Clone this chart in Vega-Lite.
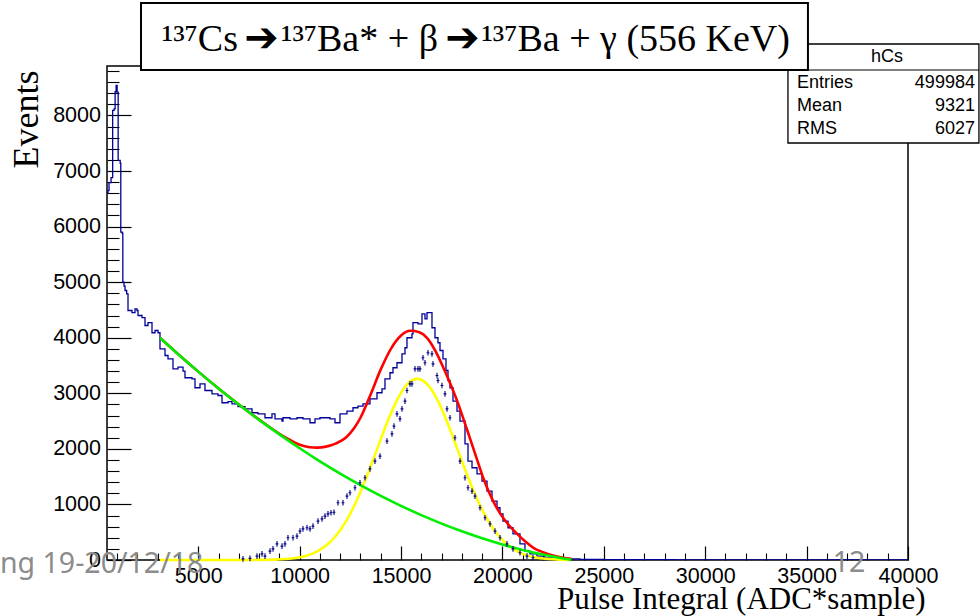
{
 "$schema": "https://vega.github.io/schema/vega-lite/v6.json",
 "width": 801,
 "height": 494,
 "autosize": {"type": "none"},
 "padding": {"left": 107, "top": 66, "right": 72, "bottom": 56},
 "background": "white",
 "config": {"view": {"stroke": "black", "strokeWidth": 1.5}},
 "resolve": {"axis": {"x": "independent", "y": "independent"}},
 "datasets": {
  "hist": [
   {"x":500,"n":6610},{"x":550,"n":6650},{"x":600,"n":6790},{"x":700,"n":6880},{"x":780,"n":8090},{"x":850,"n":8120},{"x":900,"n":8430},{"x":950,"n":8540},{"x":1000,"n":8420},{"x":1050,"n":7190},{"x":1150,"n":7140},{"x":1180,"n":5900},{"x":1250,"n":5880},{"x":1280,"n":5000},{"x":1340,"n":4930},{"x":1390,"n":4850},{"x":1470,"n":4790},{"x":1536,"n":4490},{"x":1733,"n":4450},{"x":1881,"n":4520},{"x":1979,"n":4490},{"x":2029,"n":4400},{"x":2226,"n":4360},{"x":2374,"n":4220},{"x":2522,"n":4270},{"x":2719,"n":4090},{"x":2867,"n":4130},{"x":3015,"n":4090},{"x":3113,"n":3800},{"x":3360,"n":3680},{"x":3508,"n":3620},{"x":3754,"n":3440},{"x":4001,"n":3470},{"x":4248,"n":3400},{"x":4346,"n":3280},{"x":4691,"n":3260},{"x":4839,"n":3100},{"x":5086,"n":3170},{"x":5332,"n":3050},{"x":5678,"n":2990},{"x":5973,"n":2960},{"x":6171,"n":2830},{"x":6467,"n":2850},{"x":6664,"n":2810},{"x":6960,"n":2760},{"x":7305,"n":2720},{"x":7650,"n":2650},{"x":7946,"n":2630},{"x":8291,"n":2560},{"x":8636,"n":2630},{"x":8784,"n":2540},{"x":9129,"n":2500},{"x":9179,"n":2560},{"x":9524,"n":2540},{"x":9870,"n":2560},{"x":10165,"n":2540},{"x":10511,"n":2470},{"x":10757,"n":2540},{"x":11003,"n":2560},{"x":11496,"n":2540},{"x":11743,"n":2470},{"x":11989,"n":2630},{"x":12334,"n":2680},{"x":12631,"n":2740},{"x":12877,"n":2770},{"x":13124,"n":2810},{"x":13469,"n":2900},{"x":13814,"n":3010},{"x":14061,"n":3080},{"x":14208,"n":3260},{"x":14455,"n":3370},{"x":14603,"n":3460},{"x":14800,"n":3550},{"x":15047,"n":3710},{"x":15195,"n":3820},{"x":15293,"n":4000},{"x":15540,"n":4070},{"x":15589,"n":4270},{"x":15836,"n":4250},{"x":16033,"n":4430},{"x":16181,"n":4340},{"x":16280,"n":4450},{"x":16526,"n":4180},{"x":16674,"n":4000},{"x":16822,"n":3910},{"x":16921,"n":3770},{"x":17069,"n":3620},{"x":17217,"n":3410},{"x":17315,"n":3230},{"x":17414,"n":3100},{"x":17562,"n":2860},{"x":17759,"n":2680},{"x":17907,"n":2500},{"x":18154,"n":2090},{"x":18302,"n":1780},{"x":18500,"n":1660},{"x":18746,"n":1550},{"x":18993,"n":1420},{"x":19239,"n":1240},{"x":19486,"n":1060},{"x":19733,"n":940},{"x":19879,"n":830},{"x":20027,"n":700},{"x":20274,"n":580},{"x":20520,"n":470},{"x":20865,"n":290},{"x":21112,"n":160},{"x":21358,"n":110},{"x":21703,"n":70},{"x":22098,"n":40},{"x":22837,"n":20},{"x":23823,"n":10},{"x":25000,"n":5},{"x":27000,"n":8},{"x":28500,"n":3},{"x":30000,"n":2},{"x":33000,"n":1},{"x":36000,"n":2},{"x":40000,"n":0}
  ],
  "total": [
   {"x":3113,"n":4000},{"x":4000,"n":3707},{"x":5000,"n":3390},{"x":6000,"n":3087},{"x":7000,"n":2800},{"x":8000,"n":2527},{"x":9000,"n":2272},{"x":9500,"n":2165},{"x":10000,"n":2075},{"x":10500,"n":2030},{"x":10850,"n":2022},{"x":11300,"n":2040},{"x":11800,"n":2100},{"x":12300,"n":2210},{"x":12700,"n":2380},{"x":13000,"n":2560},{"x":13500,"n":2980},{"x":14000,"n":3430},{"x":14500,"n":3800},{"x":15000,"n":4040},{"x":15460,"n":4125},{"x":15900,"n":4100},{"x":16300,"n":3990},{"x":16700,"n":3760},{"x":17090,"n":3460},{"x":17430,"n":3170},{"x":17780,"n":2850},{"x":18270,"n":2330},{"x":18700,"n":1860},{"x":19060,"n":1470},{"x":19500,"n":1090},{"x":19900,"n":830},{"x":20300,"n":635},{"x":20740,"n":465},{"x":21100,"n":340},{"x":21530,"n":220},{"x":22000,"n":140},{"x":22500,"n":80},{"x":23000,"n":40},{"x":23400,"n":22}
  ],
  "gaus": [
   {"x":3113,"n":0},{"x":6000,"n":0},{"x":7800,"n":1},{"x":8300,"n":3},{"x":8800,"n":7},{"x":9300,"n":17},{"x":9800,"n":36},{"x":10300,"n":74},{"x":10800,"n":143},{"x":11300,"n":259},{"x":11800,"n":441},{"x":12300,"n":705},{"x":12800,"n":1058},{"x":13300,"n":1492},{"x":13800,"n":1977},{"x":14300,"n":2461},{"x":14800,"n":2877},{"x":15300,"n":3160},{"x":15800,"n":3260},{"x":16300,"n":3160},{"x":16800,"n":2877},{"x":17300,"n":2461},{"x":17800,"n":1977},{"x":18300,"n":1492},{"x":18800,"n":1058},{"x":19300,"n":705},{"x":19800,"n":441},{"x":20300,"n":259},{"x":20800,"n":143},{"x":21300,"n":74},{"x":21800,"n":36},{"x":22300,"n":17},{"x":22800,"n":7},{"x":23300,"n":3}
  ],
  "bkg": [
   {"x":3113,"n":4000},{"x":4000,"n":3707},{"x":5000,"n":3390},{"x":6000,"n":3087},{"x":7000,"n":2797},{"x":8000,"n":2521},{"x":9000,"n":2260},{"x":10000,"n":2011},{"x":11000,"n":1776},{"x":12000,"n":1555},{"x":13000,"n":1348},{"x":14000,"n":1154},{"x":15000,"n":974},{"x":16000,"n":808},{"x":17000,"n":655},{"x":18000,"n":517},{"x":19000,"n":391},{"x":20000,"n":280},{"x":21000,"n":182},{"x":22000,"n":98},{"x":23000,"n":27},{"x":23400,"n":5}
  ],
  "points": [
   {"x":7206,"n":20},{"x":7551,"n":30},{"x":7897,"n":70},{"x":8143,"n":110},{"x":8291,"n":70},{"x":8538,"n":160},{"x":8686,"n":200},{"x":8883,"n":290},{"x":9129,"n":250},{"x":9277,"n":290},{"x":9425,"n":400},{"x":9672,"n":400},{"x":9869,"n":430},{"x":10017,"n":520},{"x":10165,"n":560},{"x":10362,"n":580},{"x":10510,"n":560},{"x":10658,"n":610},{"x":10905,"n":700},{"x":11102,"n":740},{"x":11250,"n":790},{"x":11398,"n":830},{"x":11546,"n":850},{"x":11694,"n":860},{"x":11891,"n":1030},{"x":12138,"n":1030},{"x":12334,"n":1150},{"x":12482,"n":1210},{"x":12729,"n":1300},{"x":12976,"n":1390},{"x":13222,"n":1480},{"x":13469,"n":1640},{"x":13715,"n":1780},{"x":13962,"n":1870},{"x":14307,"n":2140},{"x":14553,"n":2270},{"x":14652,"n":2410},{"x":14800,"n":2630},{"x":14948,"n":2540},{"x":15047,"n":2720},{"x":15195,"n":2860},{"x":15293,"n":3050},{"x":15441,"n":3170},{"x":15540,"n":3170},{"x":15688,"n":3440},{"x":15836,"n":3440},{"x":15934,"n":3440},{"x":16082,"n":3640},{"x":16181,"n":3550},{"x":16329,"n":3730},{"x":16526,"n":3710},{"x":16576,"n":3530},{"x":16773,"n":3320},{"x":16822,"n":3230},{"x":17019,"n":3140},{"x":17167,"n":2990},{"x":17266,"n":2720},{"x":17414,"n":2560},{"x":17660,"n":2200},{"x":17907,"n":1780},{"x":18154,"n":1480},{"x":18302,"n":1300},{"x":18500,"n":1240},{"x":18647,"n":1150},{"x":18894,"n":940},{"x":19140,"n":760},{"x":19387,"n":650},{"x":19634,"n":520},{"x":19880,"n":400},{"x":20225,"n":290},{"x":20521,"n":200},{"x":20866,"n":130},{"x":21211,"n":70},{"x":21507,"n":40}
  ],
  "one": [{}]
 },
 "layer": [
  {
   "data": {"name": "hist"},
   "mark": {"type": "line", "interpolate": "step-after", "color": "#000099", "strokeWidth": 1.3, "clip": true},
   "encoding": {
    "x": {"field": "x", "type": "quantitative",
     "scale": {"domain": [500, 40000], "nice": false, "zero": false},
     "axis": {"orient": "bottom", "values": [5000,10000,15000,20000,25000,30000,35000,40000], "format": "d",
      "labelFont": "Liberation Sans", "labelFontSize": 21.5, "labelColor": "black", "labelPadding": 5, "labelFlush": false, "labelOverlap": false,
      "tickColor": "black", "tickSize": 14, "tickWidth": 1.2, "offset": -14, "domain": false, "grid": false,
      "title": "Pulse Integral (ADC*sample)", "titleFont": "Liberation Serif", "titleFontSize": 31, "titleFontWeight": "normal", "titleColor": "black",
      "titleAlign": "right", "titleAnchor": "end", "titleBaseline": "alphabetic", "titleX": 818, "titleY": 62}},
    "y": {"field": "n", "type": "quantitative",
     "scale": {"domain": [0, 8890], "nice": false, "zero": false},
     "axis": {"orient": "left", "values": [0,1000,2000,3000,4000,5000,6000,7000,8000], "format": "d",
      "labelFont": "Liberation Sans", "labelFontSize": 21.5, "labelColor": "black", "labelPadding": 6.5, "labelFlush": false, "labelOverlap": false,
      "tickColor": "black", "tickSize": 24, "tickWidth": 1.2, "offset": -24, "domain": false, "grid": false,
      "title": "Events", "titleFont": "Liberation Serif", "titleFontSize": 36, "titleFontWeight": "normal", "titleColor": "black",
      "titleAngle": -90, "titleAlign": "right", "titleBaseline": "alphabetic", "titleX": -94, "titleY": 4}}
   }
  },
  {
   "data": {"name": "total"},
   "mark": {"type": "line", "interpolate": "monotone", "color": "#ff0000", "strokeWidth": 2.6},
   "encoding": {
    "x": {"field": "x", "type": "quantitative",
     "axis": {"orient": "bottom", "values": [1000,2000,3000,4000,6000,7000,8000,9000,11000,12000,13000,14000,16000,17000,18000,19000,21000,22000,23000,24000,26000,27000,28000,29000,31000,32000,33000,34000,36000,37000,38000,39000],
      "labels": false, "domain": false, "grid": false, "title": null, "tickColor": "black", "tickSize": 7, "offset": -7, "tickWidth": 1.1}},
    "y": {"field": "n", "type": "quantitative",
     "axis": {"orient": "left", "values": [200,400,600,800,1200,1400,1600,1800,2200,2400,2600,2800,3200,3400,3600,3800,4200,4400,4600,4800,5200,5400,5600,5800,6200,6400,6600,6800,7200,7400,7600,7800,8200,8400,8600,8800],
      "labels": false, "domain": false, "grid": false, "title": null, "tickColor": "black", "tickSize": 12, "offset": -12, "tickWidth": 1.1}}
   }
  },
  {
   "data": {"name": "gaus"},
   "mark": {"type": "line", "interpolate": "monotone", "color": "#ffff00", "strokeWidth": 2.6},
   "encoding": {
    "x": {"field": "x", "type": "quantitative", "axis": null},
    "y": {"field": "n", "type": "quantitative", "axis": null}
   }
  },
  {
   "data": {"name": "bkg"},
   "mark": {"type": "line", "interpolate": "monotone", "color": "#00ee00", "strokeWidth": 2.6},
   "encoding": {
    "x": {"field": "x", "type": "quantitative", "axis": null},
    "y": {"field": "n", "type": "quantitative", "axis": null}
   }
  },
  {
   "data": {"name": "points"},
   "mark": {"type": "point", "shape": "M-0.5,0H0.5M0,-1V1", "filled": false, "stroke": "#000080", "strokeWidth": 1.1, "size": 32, "opacity": 1},
   "encoding": {
    "x": {"field": "x", "type": "quantitative", "axis": null},
    "y": {"field": "n", "type": "quantitative", "axis": null}
   }
  },
  {
   "data": {"name": "one"},
   "mark": {"type": "rect", "fill": "white", "stroke": "black", "strokeWidth": 1.3, "clip": false},
   "encoding": {
    "x": {"datum": 34080, "type": "quantitative", "axis": null}, "x2": {"datum": 43498},
    "y": {"datum": 9286, "type": "quantitative", "axis": null}, "y2": {"datum": 7504}
   }
  },
  {
   "data": {"name": "one"},
   "mark": {"type": "rule", "stroke": "black", "strokeWidth": 1.2, "clip": false},
   "encoding": {
    "x": {"datum": 34080, "type": "quantitative", "axis": null}, "x2": {"datum": 43498},
    "y": {"datum": 8818, "type": "quantitative", "axis": null}
   }
  },
  {
   "data": {"name": "one"},
   "mark": {"type": "text", "text": "hCs", "font": "Liberation Sans", "fontSize": 18, "align": "center", "baseline": "middle", "color": "black", "clip": false},
   "encoding": {
    "x": {"datum": 38962, "type": "quantitative", "axis": null},
    "y": {"datum": 9052, "type": "quantitative", "axis": null}
   }
  },
  {
   "data": {"name": "one"},
   "mark": {"type": "text", "text": ["Entries", "Mean", "RMS"], "font": "Liberation Sans", "fontSize": 18, "lineHeight": 23.3, "align": "left", "baseline": "top", "color": "black", "clip": false},
   "encoding": {
    "x": {"datum": 34524, "type": "quantitative", "axis": null},
    "y": {"datum": 8750, "type": "quantitative", "axis": null}
   }
  },
  {
   "data": {"name": "one"},
   "mark": {"type": "text", "text": ["499984", "9321", "6027"], "font": "Liberation Sans", "fontSize": 18, "lineHeight": 23.3, "align": "right", "baseline": "top", "color": "black", "clip": false},
   "encoding": {
    "x": {"datum": 43301, "type": "quantitative", "axis": null},
    "y": {"datum": 8750, "type": "quantitative", "axis": null}
   }
  },
  {
   "data": {"name": "one"},
   "mark": {"type": "rect", "fill": "white", "stroke": "black", "strokeWidth": 2, "clip": false},
   "encoding": {
    "x": {"datum": 2177, "type": "quantitative", "axis": null}, "x2": {"datum": 35066},
    "y": {"datum": 10024, "type": "quantitative", "axis": null}, "y2": {"datum": 8818}
   }
  },
  {
   "data": {"name": "one"},
   "mark": {"type": "text", "text": "¹³⁷Cs", "font": "Liberation Serif", "fontSize": 38, "align": "right", "baseline": "alphabetic", "color": "black", "clip": false},
   "encoding": {
    "x": {"datum": 6960, "type": "quantitative", "axis": null},
    "y": {"datum": 9160, "type": "quantitative", "axis": null}
   }
  },
  {
   "data": {"name": "one"},
   "mark": {"type": "text", "text": "➔", "font": "DejaVu Sans", "fontSize": 41, "align": "center", "baseline": "alphabetic", "color": "black", "clip": false},
   "encoding": {
    "x": {"datum": 8118, "type": "quantitative", "axis": null},
    "y": {"datum": 9160, "type": "quantitative", "axis": null}
   }
  },
  {
   "data": {"name": "one"},
   "mark": {"type": "text", "text": "¹³⁷Ba* + β", "font": "Liberation Serif", "fontSize": 38, "align": "left", "baseline": "alphabetic", "color": "black", "clip": false},
   "encoding": {
    "x": {"datum": 9080, "type": "quantitative", "axis": null},
    "y": {"datum": 9160, "type": "quantitative", "axis": null}
   }
  },
  {
   "data": {"name": "one"},
   "mark": {"type": "text", "text": "➔", "font": "DejaVu Sans", "fontSize": 41, "align": "center", "baseline": "alphabetic", "color": "black", "clip": false},
   "encoding": {
    "x": {"datum": 18030, "type": "quantitative", "axis": null},
    "y": {"datum": 9160, "type": "quantitative", "axis": null}
   }
  },
  {
   "data": {"name": "one"},
   "mark": {"type": "text", "text": "¹³⁷Ba + γ (556 KeV)", "font": "Liberation Serif", "fontSize": 38, "align": "right", "baseline": "alphabetic", "color": "black", "clip": false},
   "encoding": {
    "x": {"datum": 34179, "type": "quantitative", "axis": null},
    "y": {"datum": 9160, "type": "quantitative", "axis": null}
   }
  },
  {
   "data": {"name": "one"},
   "mark": {"type": "text", "text": "ng  19-20/12/18", "font": "Noto Sans", "fontSize": 28.5, "align": "left", "baseline": "alphabetic", "color": "#8c8c8c", "clip": false},
   "encoding": {
    "x": {"datum": -4776, "type": "quantitative", "axis": null},
    "y": {"datum": -234, "type": "quantitative", "axis": null}
   }
  },
  {
   "data": {"name": "one"},
   "mark": {"type": "text", "text": "12", "font": "Noto Sans", "fontSize": 28.5, "align": "center", "baseline": "alphabetic", "color": "#8c8c8c", "clip": false},
   "encoding": {
    "x": {"datum": 37088, "type": "quantitative", "axis": null},
    "y": {"datum": -216, "type": "quantitative", "axis": null}
   }
  }
 ]
}
